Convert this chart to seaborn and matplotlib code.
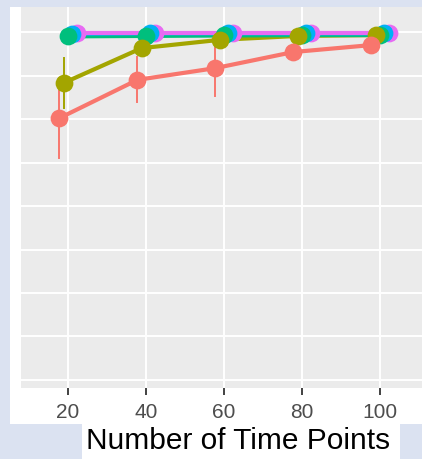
import matplotlib
matplotlib.use("Agg")
import matplotlib.pyplot as plt
from matplotlib.patches import Rectangle
import seaborn as sns
import pandas as pd

# values (y in accuracy-like units, grid step 0.1)
time_points = [20, 40, 60, 80, 100]
groups = ["A", "B", "C", "D", "E"]
palette = ["#F8766D", "#A3A500", "#00BF7D", "#00B0F6", "#E76BF3"]

mean_a = [0.802, 0.890, 0.917, 0.954, 0.970]
err_a = [0.092, 0.052, 0.065, 0.008, 0.008]
mean_b = [0.883, 0.963, 0.982, 0.991, 0.993]
err_b = [0.057, 0.010, 0.008, 0.005, 0.004]
mean_c = [0.990, 0.991, 0.992, 0.993, 0.993]
err_c = [0.004, 0.003, 0.003, 0.002, 0.002]
mean_d = [0.996, 0.997, 0.997, 0.997, 0.997]
err_d = [0.003, 0.002, 0.002, 0.002, 0.002]
mean_e = [0.998, 0.998, 0.998, 0.998, 0.998]
err_e = [0.002, 0.002, 0.002, 0.002, 0.002]

y_grid = [0.2, 0.3, 0.4, 0.5, 0.6, 0.7, 0.8, 0.9, 1.0]

means = [mean_a, mean_b, mean_c, mean_d, mean_e]
errs = [err_a, err_b, err_c, err_d, err_e]

# three rows per point (low, centre, high) so seaborn draws the interval itself
rows = []
for g, m, e in zip(groups, means, errs):
    for t, v, s in zip(time_points, m, e):
        for val in (v - s, v, v + s):
            rows.append({"time": t, "group": g, "value": val})
df = pd.DataFrame(rows)

W, H = 422, 459
fig = plt.figure(figsize=(W / 100, H / 100), dpi=100, facecolor="#dbe2f1")

# white plot image and label box pasted on the slide
fig.patches.append(Rectangle((10 / W, 1 - 424 / H), 412 / W, 417 / H,
                             transform=fig.transFigure, facecolor="white", edgecolor="none", zorder=-5))
fig.patches.append(Rectangle((82 / W, 0), 318 / W, 35 / H,
                             transform=fig.transFigure, facecolor="white", edgecolor="none", zorder=-5))

ax = fig.add_axes([21.2 / W, 1 - 388 / H, 405.6 / W, 381 / H])
ax.set_facecolor("#EBEBEB")

sns.pointplot(data=df, x="time", y="value", hue="group", hue_order=groups,
              palette=palette, estimator="median",
              errorbar=lambda v: (v.min(), v.max()),
              dodge=0.22, markersize=12, linewidth=3.0,
              err_kws={"linewidth": 1.4}, legend=False, ax=ax)

# lines stack in group order, but the dots of earlier groups sit in front
n = len(palette)
for line in list(ax.lines):
    c = matplotlib.colors.to_hex(line.get_color()).upper()
    if c not in palette:
        continue
    idx = palette.index(c)
    if line.get_marker() == "o":
        line.set_marker("None")
        line.set_zorder(3 + idx)
        ax.plot(line.get_xdata(), line.get_ydata(), linestyle="none", marker="o",
                markersize=12.8, color=c, markeredgewidth=0, zorder=20 + (n - idx))
    else:
        line.set_zorder(10 + (n - idx))

ax.set_xlim(-0.6, 4.6)
ax.set_ylim(0.1816, 1.0575)
ax.set_yticks(y_grid)
ax.set_yticklabels([])
ax.tick_params(axis="y", length=0)
ax.tick_params(axis="x", length=5, width=1.3, color="#333333", pad=6,
               labelsize=15, labelcolor="#4d4d4d")
for lab in ax.get_xticklabels():
    lab.set_fontfamily("Liberation Sans")
ax.grid(True, color="white", linewidth=1.4)
ax.set_axisbelow(True)
for s in ax.spines.values():
    s.set_visible(False)
ax.set_xlabel("")
ax.set_ylabel("")

fig.text(238 / W, 1 - 441 / H, "Number of Time Points", ha="center", va="center",
         fontsize=21.5, color="black", family="Liberation Sans")

fig.savefig("out.png", dpi=100, facecolor=fig.get_facecolor())
